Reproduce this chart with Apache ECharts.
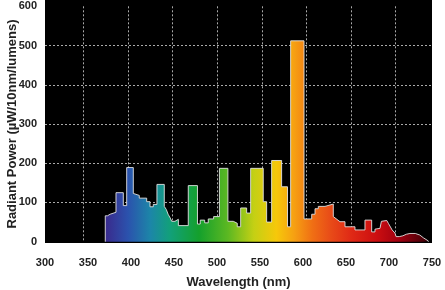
<!DOCTYPE html>
<html><head><meta charset="utf-8">
<script src="https://cdn.jsdelivr.net/npm/echarts@6/dist/echarts.min.js"></script>
<style>html,body{margin:0;padding:0;background:#fff}#c{width:445px;height:290px}</style>
</head><body><div id="c"></div>
<script>
// Tick labels
const xTickMin = 300, xTickMax = 750, xTickStep = 50;
const yTickMin = 0, yTickMax = 600, yTickStep = 100;

// Spectrum outline vertices (wavelength nm, radiant power µW/10nm/lumens)
const wavelengthNm = [
  374.6, 374.6, 377, 377, 380, 380, 386.6, 386.6, 394.8, 394.8,
  398.6, 398.6, 406, 406, 408, 408, 412.7, 412.7, 421, 421,
  424.7, 424.7, 428.4, 428.4, 432.5, 432.5, 440.7, 440.7, 443, 445,
  447.5, 449, 452.7, 452.7, 456.5, 456.5, 467.6, 467.6, 477.9, 477.9,
  481, 481, 486, 486, 490, 490, 496, 496, 502.5, 502.5,
  512, 512, 518, 518, 522.5, 522.5, 526.3, 526.3, 533, 533,
  537.5, 537.5, 551.6, 551.6, 555.4, 555.4, 561, 561, 572.2, 572.2,
  578.8, 578.8, 582.3, 582.3, 597.3, 597.3, 605.9, 605.9, 609.6, 609.6,
  613.3, 613.3, 620.8, 620.8, 630.1, 630.1, 632, 637.6, 643.2, 643.2,
  654.4, 654.4, 665.6, 665.6, 673.1, 673.1, 676.8, 676.8, 682.4, 684,
  690, 692, 696, 699.2, 700.5, 704, 708, 712, 716, 722,
  727, 731, 736.5, 736.5
];
const radiantPower = [
  0, 66, 66, 70, 70, 75, 75, 125, 125, 92,
  92, 189, 189, 123, 123, 118, 118, 111, 111, 102,
  102, 89, 89, 95, 95, 146, 146, 90, 82, 70,
  60, 52, 52, 57, 57, 41, 41, 143, 143, 45,
  45, 55, 55, 48, 48, 58, 58, 64, 64, 187,
  187, 52, 52, 47, 47, 38, 38, 86, 86, 73,
  73, 187, 187, 102, 102, 50, 50, 207, 207, 140,
  140, 38, 38, 512, 512, 58, 58, 70, 70, 84,
  84, 90, 90, 94, 96, 64, 62, 51, 51, 38,
  38, 30, 30, 55, 55, 25, 25, 32, 34, 52,
  54, 46, 30, 22, 13, 13, 15, 19, 21, 21,
  17, 10, 2, 0
];

const font = 'Liberation Sans, Arial, sans-serif';
const chart = echarts.init(document.getElementById('c'), null, {renderer: 'canvas'});
const seriesData = wavelengthNm.map((w, i) => [w, radiantPower[i]]);

chart.setOption({
  animation: false,
  backgroundColor: '#fff',
  grid: [
    {left: 45, right: 13, top: 0, bottom: 47, show: true, backgroundColor: '#000', borderWidth: 0, containLabel: false, outerBoundsMode: 'none'},
    {left: 45, right: 13, top: 6.3, bottom: 48.3, containLabel: false, outerBoundsMode: 'none'},
    {left: 38.7, right: 4.7, top: 6.3, bottom: 48.3, containLabel: false, outerBoundsMode: 'none'}
  ],
  xAxis: [
    {gridIndex: 0, type: 'value', show: false, min: 0, max: 1},
    {
      gridIndex: 1, type: 'value', min: xTickMin, max: xTickMax, interval: xTickStep,
      axisLine: {show: false}, axisTick: {show: false}, splitLine: {show: false},
      axisLabel: {margin: 16, fontWeight: 'bold', fontSize: 11, color: '#222', fontFamily: font},
      name: 'Wavelength (nm)', nameLocation: 'middle', nameGap: 34, nameMoveOverlap: false,
      nameTextStyle: {fontWeight: 'bold', fontSize: 13, color: '#222', fontFamily: font}
    },
    {
      gridIndex: 2, type: 'value', min: xTickMin, max: xTickMax, interval: xTickStep,
      axisLine: {show: false}, axisTick: {show: false}, axisLabel: {show: false},
      splitLine: {show: true, showMinLine: false, showMaxLine: false,
        lineStyle: {color: 'rgba(200,200,200,0.85)', type: [2, 2], width: 1}}
    }
  ],
  yAxis: [
    {gridIndex: 0, type: 'value', show: false, min: 0, max: 1},
    {
      gridIndex: 1, type: 'value', min: yTickMin, max: yTickMax - 0.001, interval: yTickStep,
      axisLine: {show: false}, axisTick: {show: false},
      axisLabel: {margin: 8, fontWeight: 'bold', fontSize: 11, color: '#222', fontFamily: font,
        formatter: v => String(Math.round(v))},
      splitLine: {show: true, showMinLine: false, showMaxLine: false,
        lineStyle: {color: 'rgba(200,200,200,0.85)', type: [2, 2], width: 1}},
      name: 'Radiant Power (µW/10nm/lumens)', nameLocation: 'middle', nameGap: 26, nameMoveOverlap: false,
      nameTextStyle: {fontWeight: 'bold', fontSize: 13, color: '#222', fontFamily: font}
    },
    {gridIndex: 2, type: 'value', show: false, min: yTickMin, max: yTickMax}
  ],
  series: [{
    type: 'line',
    xAxisIndex: 2, yAxisIndex: 2,
    data: seriesData,
    symbol: 'none',
    lineStyle: {color: 'rgba(225,225,225,0.9)', width: 1},
    areaStyle: {
      opacity: 1,
      color: {
        type: 'linear', x: 0, y: 0, x2: 1, y2: 0,
        colorStops: [
          {offset: 0, color: '#3a2a8c'},
          {offset: 0.07, color: '#2b52ad'},
          {offset: 0.14, color: '#1c86a8'},
          {offset: 0.2, color: '#12a07a'},
          {offset: 0.29, color: '#14a02c'},
          {offset: 0.38, color: '#5cb822'},
          {offset: 0.46, color: '#c4d014'},
          {offset: 0.53, color: '#f6c80a'},
          {offset: 0.585, color: '#f6a012'},
          {offset: 0.64, color: '#f07014'},
          {offset: 0.7, color: '#e84a18'},
          {offset: 0.76, color: '#e02a16'},
          {offset: 0.84, color: '#cc0e10'},
          {offset: 0.91, color: '#a00010'},
          {offset: 1, color: '#3a0006'}
        ]
      }
    },
    z: 3
  }]
});
</script></body></html>
